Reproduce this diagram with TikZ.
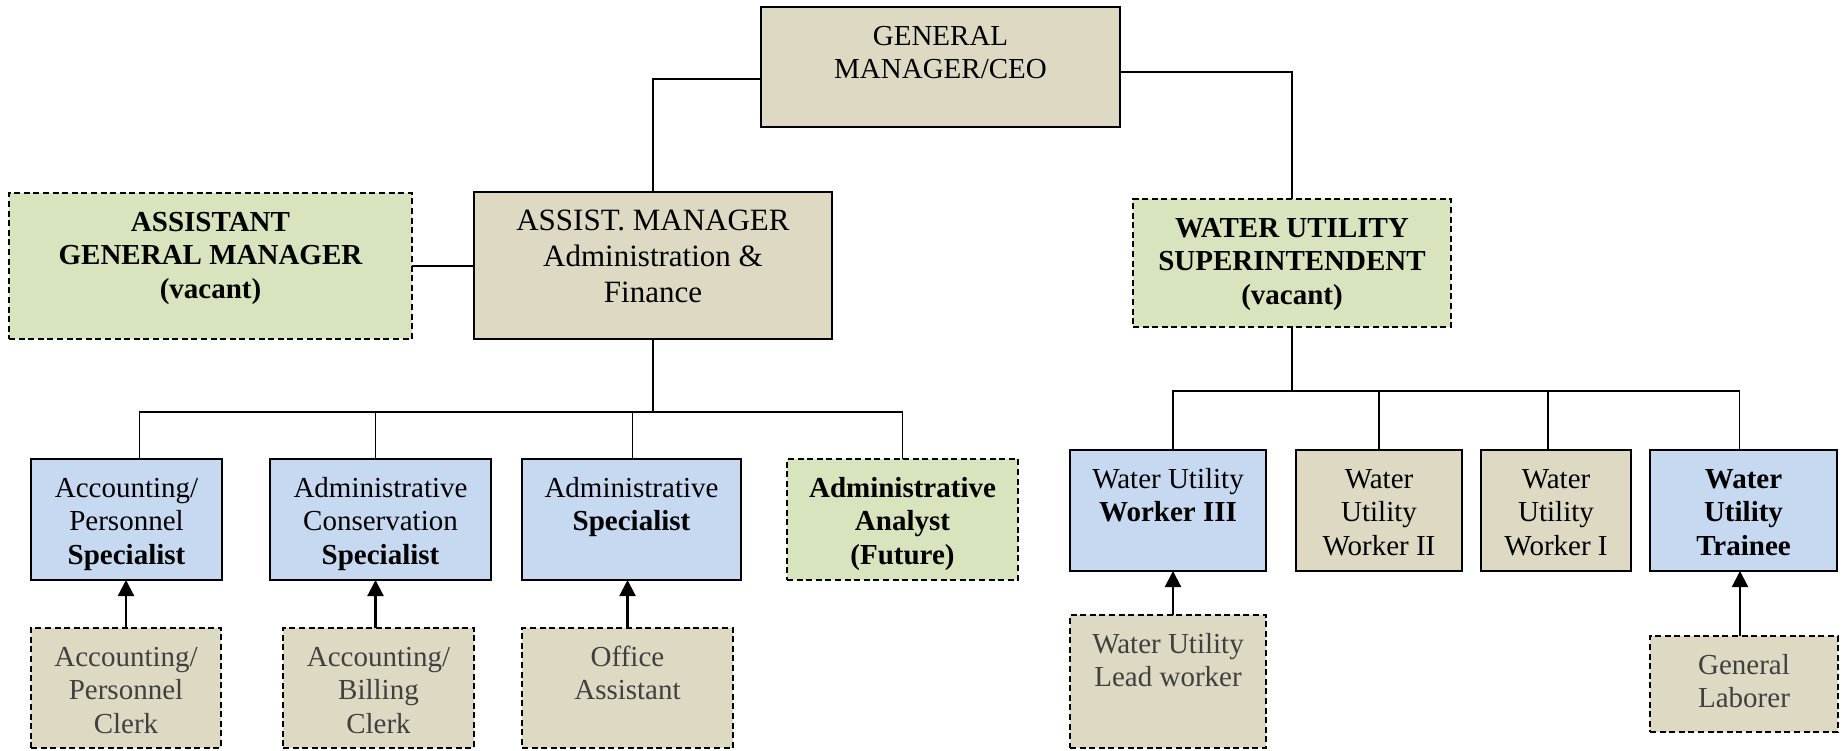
\documentclass[tikz,border=0pt]{standalone}
\usepackage{fontspec}
\setmainfont{Liberation Serif}[Ligatures=TeX]
\newfontfamily\orgfont{Liberation Serif}
\usepackage{tikz}
\usetikzlibrary{arrows.meta}

\definecolor{tanbox}{HTML}{DDD9C3}
\definecolor{bluebox}{HTML}{C6D9F1}
\definecolor{greenbox}{HTML}{D7E4BD}
\definecolor{clerktext}{HTML}{404040}

% box text: width, height, lines (top aligned)
\newcommand{\cbox}[3]{\parbox[c][#2][t]{#1}{\centering\rule{0pt}{19pt}#3\par}}

\tikzset{
  post/.style={draw, line width=1.2pt, inner sep=0pt, outer sep=0pt, anchor=north west},
  tanpost/.style={post, fill=tanbox},
  bluepost/.style={post, fill=bluebox},
  vacant/.style={draw, line width=0.9pt, dash pattern=on 3pt off 1.8pt, fill=greenbox,
    inner sep=0pt, outer sep=0pt, anchor=north west},
  clerk/.style={vacant, fill=tanbox, text=clerktext},
  link/.style={line width=0.7pt},
  feed/.style={line width=1.1pt, -{Triangle[length=8pt,width=8pt]}}
}

\begin{document}
\begin{tikzpicture}[x=0.5pt, y=-0.5pt, font=\orgfont\fontsize{14.5}{16.75}\selectfont]
	\useasboundingbox (0,0) rectangle (1847,750);
	% top levels
	\node[tanpost] (ceo) at (761,7) {\cbox{179.5pt}{60pt}{GENERAL\\MANAGER/CEO}};
	\node[vacant] (agm) at (9,193) {\cbox{201.5pt}{73pt}{\bfseries ASSISTANT\\GENERAL MANAGER\\(vacant)}};
	\node[tanpost] (am) at (474,192) {\cbox{179pt}{73.5pt}{\fontsize{15.5}{18}\selectfont ASSIST. MANAGER\\Administration \&\\Finance}};
	\node[vacant] (wus) at (1133,199) {\cbox{159pt}{64pt}{\bfseries WATER UTILITY\\SUPERINTENDENT\\(vacant)}};
	% administration
	\node[bluepost] (aps) at (31,459) {\cbox{95.5pt}{60.5pt}{Accounting/\\Personnel\\\textbf{Specialist}}};
	\node[bluepost] (acs) at (270,459) {\cbox{110.5pt}{60.5pt}{Administrative\\Conservation\\\textbf{Specialist}}};
	\node[bluepost] (ads) at (522,459) {\cbox{109.5pt}{60.5pt}{Administrative\\\textbf{Specialist}}};
	\node[vacant] (ana) at (787,459) {\cbox{115.5pt}{60.5pt}{\bfseries Administrative\\Analyst\\(Future)}};
	\node[clerk] (apc) at (31,628) {\cbox{95pt}{60pt}{Accounting/\\Personnel\\Clerk}};
	\node[clerk] (abc) at (283,628) {\cbox{95.5pt}{60pt}{Accounting/\\Billing\\Clerk}};
	\node[clerk] (oa) at (522,628) {\cbox{105.5pt}{60pt}{Office\\Assistant}};
	% water utility
	\node[bluepost] (w3) at (1070,450) {\cbox{98pt}{60.5pt}{Water Utility\\\textbf{Worker III}}};
	\node[tanpost] (w2) at (1296,450) {\cbox{83pt}{60.5pt}{Water\\Utility\\Worker II}};
	\node[tanpost] (w1) at (1481,450) {\cbox{75pt}{60.5pt}{Water\\Utility\\Worker I}};
	\node[bluepost] (wt) at (1650,450) {\cbox{93.5pt}{60.5pt}{\bfseries Water\\Utility\\Trainee}};
	\node[clerk] (lw) at (1070,615) {\cbox{98pt}{66.5pt}{Water Utility\\Lead worker}};
	\node[clerk] (gl) at (1650,636) {\cbox{94pt}{48pt}{General\\Laborer}};
	% connectors
	\coordinate (lbar) at (653,412);
	\coordinate (rbar) at (1295,391);
	\draw[link] ([yshift=-6pt]ceo.west) -| (am.north);
	\draw[link] ([yshift=-2.5pt]ceo.east) -| (wus.north);
	\draw[link] (agm.east) -- (agm.east -| am.west);
	\draw[link] (am.south) -- (am.south |- lbar);
	\draw[link] ([xshift=6.5pt]aps.north) |- (lbar) -| (ana.north);
	\draw[link] ([xshift=-2.5pt]acs.north) -- ([xshift=-2.5pt]acs.north |- lbar);
	\draw[link] ([xshift=0.5pt]ads.north) -- ([xshift=0.5pt]ads.north |- lbar);
	\draw[link] (wus.south) -- (wus.south |- rbar);
	\draw[link] ([xshift=2.5pt]w3.north) |- (rbar) -| ([xshift=-2pt]wt.north);
	\draw[link] (w2.north) -- (w2.north |- rbar);
	\draw[link] ([xshift=-4pt]w1.north) -- ([xshift=-4pt]w1.north |- rbar);
	% arrows
	\draw[feed] (apc.north) -- (apc.north |- aps.south);
	\draw[feed] ([xshift=-1.5pt]abc.north) -- ([xshift=-1.5pt]abc.north |- acs.south);
	\draw[feed] (oa.north) -- (oa.north |- ads.south);
	\draw[feed] ([xshift=2.5pt]lw.north) -- ([xshift=2.5pt]lw.north |- w3.south);
	\draw[feed] ([xshift=-2pt]gl.north) -- ([xshift=-2pt]gl.north |- wt.south);
\end{tikzpicture}
\end{document}
